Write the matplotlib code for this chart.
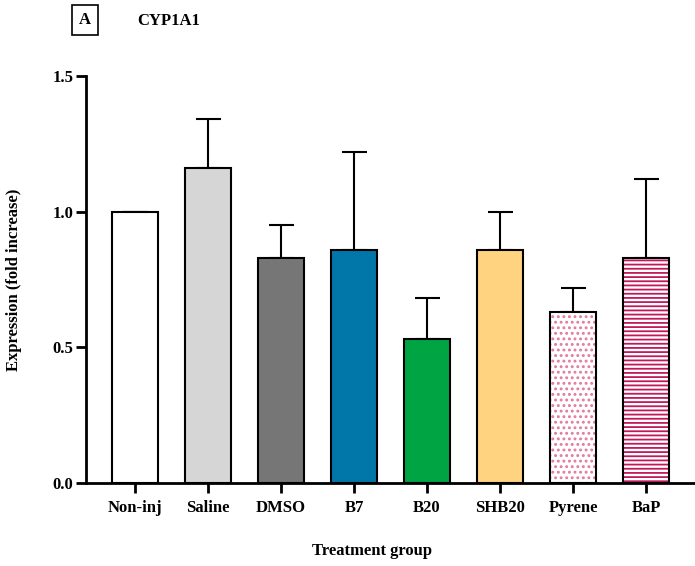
import numpy as np
import matplotlib
matplotlib.use("Agg")
import matplotlib.pyplot as plt

plt.rcParams['font.family'] = ['Liberation Serif', 'DejaVu Serif']
plt.rcParams['font.weight'] = 'bold'
plt.rcParams['hatch.linewidth'] = 1.3

groups = ['Non-inj', 'Saline', 'DMSO', 'B7', 'B20', 'SHB20', 'Pyrene', 'BaP']
mean_expr = [1.00, 1.16, 0.83, 0.86, 0.53, 0.86, 0.63, 0.83]
sem_expr = [0.00, 0.18, 0.12, 0.36, 0.15, 0.14, 0.09, 0.29]
bar_colors = ['white', '#d6d6d6', '#767676', '#0077a8', '#00a443', '#ffd37f', 'white', 'white']
hatches = [None, None, None, None, None, None, '...', '----']
hatch_colors = [None, None, None, None, None, None, '#e07a9c', '#c2185b']

fig = plt.figure(figsize=(6.95, 5.66), dpi=100)
ax = fig.add_axes([86 / 695, 83 / 566, 609 / 695, 407 / 566])

x = np.arange(len(groups))
w = 0.64
fs = 12

ax.bar(x, mean_expr, width=w, color=bar_colors, edgecolor='none', zorder=2)
# patterned fills use the edge colour for the hatch, so outline separately
for xi, m, h, hc in zip(x, mean_expr, hatches, hatch_colors):
    if h:
        ax.bar(xi, m, width=w, color='white', edgecolor=hc,
               linewidth=0, hatch=h, zorder=2)
ax.bar(x, mean_expr, width=w, fill=False, edgecolor='black', linewidth=1.5, zorder=3)

# upper error bars only
ax.errorbar(x, mean_expr, yerr=[np.zeros(len(x)), sem_expr], fmt='none',
            ecolor='black', elinewidth=1.5, capsize=9, capthick=1.5, zorder=1)

ax.set_xlim(-0.67, 7.67)
ax.set_ylim(0, 1.5)
ax.set_yticks([0.0, 0.5, 1.0, 1.5])
ax.set_yticklabels(['0.0', '0.5', '1.0', '1.5'])
ax.set_xticks(x)
ax.set_xticklabels(groups)

for s in ['top', 'right']:
    ax.spines[s].set_visible(False)
for s in ['left', 'bottom']:
    ax.spines[s].set_linewidth(2.0)
ax.spines['bottom'].set_zorder(4)

ax.tick_params(axis='both', length=7, width=2.0, labelsize=fs, pad=2)
ax.tick_params(axis='x', pad=5)

fig.text(14 / 695, 1 - 280 / 566, 'Expression (fold increase)', rotation=90,
         ha='center', va='center', fontsize=fs, fontweight='bold')
fig.text(372 / 695, 1 - 551 / 566, 'Treatment group', ha='center', va='center',
         fontsize=fs, fontweight='bold')

fig.text(85 / 695, 1 - 20 / 566, 'A', ha='center', va='center', fontsize=fs,
         fontweight='bold',
         bbox=dict(boxstyle='square,pad=0.4', facecolor='white', edgecolor='black', linewidth=1.2))
fig.text(137 / 695, 1 - 21 / 566, 'CYP1A1', ha='left', va='center', fontsize=fs,
         fontweight='bold')

fig.savefig('out.png', dpi=100)
